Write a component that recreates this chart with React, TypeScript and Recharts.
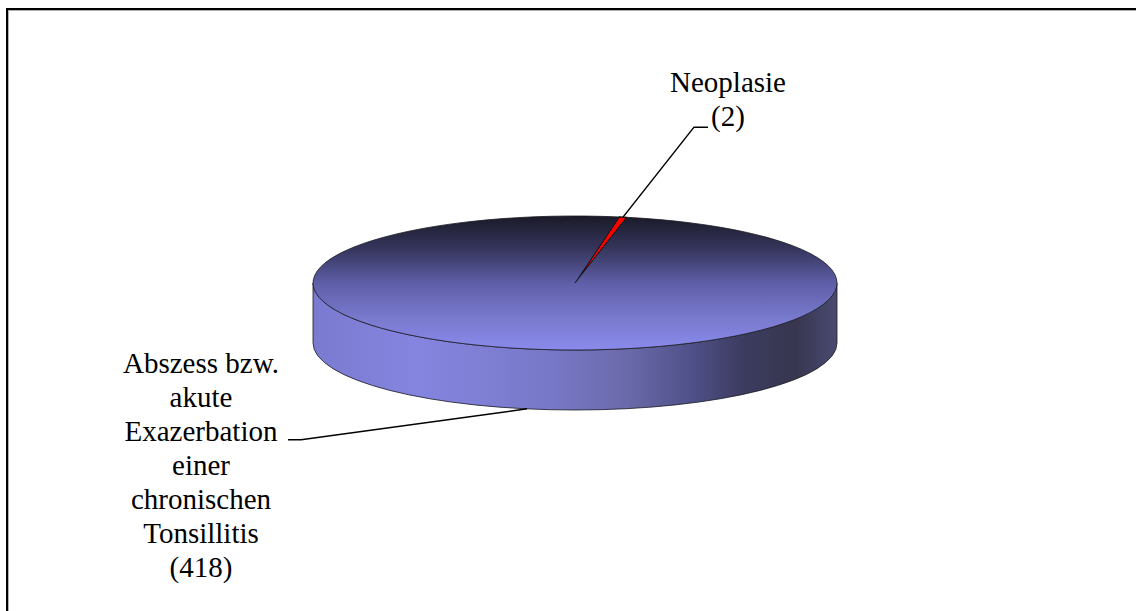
import React from 'react';
import { PieChart, Pie, Cell } from 'recharts';

// Diagnoses and case counts
const categories = ['Neoplasie', 'Abszess bzw. akute Exazerbation einer chronischen Tonsillitis'];
const counts = [2, 418];
// Wrapped label text for each category (count is appended as its own line)
const labelLines = [
  ['Neoplasie'],
  ['Abszess bzw.', 'akute', 'Exazerbation', 'einer', 'chronischen', 'Tonsillitis'],
];
const sliceColors = ['#ff0000', 'url(#pieTopFace)'];

const data = categories.map((name, i) => ({ name, value: counts[i] }));

const WIDTH = 1136;
const HEIGHT = 611;
const CX = 575;
const CY = 283;
const RADIUS = 262;
const TILT = 67 / 262; // vertical squash of the pie disc
const DEPTH = 60; // thickness of the disc
const RAD = Math.PI / 180;
const FONT = 'Liberation Serif';
const BASE_SIZE = 20; // glyphs are laid out at this size and scaled up
const FONT_SIZE = 29;
const LINE_H = 34;

const proj = (cx: number, cy: number, r: number, deg: number, drop = 0) => ({
  x: cx + r * Math.cos(-deg * RAD),
  y: cy + r * TILT * Math.sin(-deg * RAD) + drop,
});

function LabelText({ x, y, children }: { x: number; y: number; children: React.ReactNode }) {
  return (
    <text
      transform={`translate(${x},${y}) scale(${FONT_SIZE / BASE_SIZE})`}
      x={0}
      y={0}
      textAnchor="middle"
      fontFamily={FONT}
      fontSize={BASE_SIZE}
      fill="#000"
    >
      {children}
    </text>
  );
}

function Slice3D(props: any) {
  const { cx, cy, outerRadius: r, startAngle, endAngle, fill, index } = props;
  const ry = r * TILT;
  const hi = Math.max(startAngle, endAngle);
  const lo = Math.min(startAngle, endAngle);

  // Visible front wall pieces: angle ranges where the rim faces the viewer
  const walls: string[] = [];
  for (let k = -2; k <= 2; k++) {
    const a = Math.max(lo, -180 + 360 * k);
    const b = Math.min(hi, 360 * k);
    if (b - a > 0.01) {
      const pb = proj(cx, cy, r, b);
      const pa = proj(cx, cy, r, a);
      walls.push(
        `M${pb.x},${pb.y} A${r},${ry} 0 0 1 ${pa.x},${pa.y} L${pa.x},${pa.y + DEPTH} ` +
          `A${r},${ry} 0 0 0 ${pb.x},${pb.y + DEPTH} Z`
      );
    }
  }

  const s = proj(cx, cy, r, startAngle);
  const e = proj(cx, cy, r, endAngle);
  const span = Math.abs(startAngle - endAngle);
  const large = span > 180 ? 1 : 0;
  const sweep = startAngle > endAngle ? 1 : 0;
  const top = `M${cx},${cy} L${s.x},${s.y} A${r},${ry} 0 ${large} ${sweep} ${e.x},${e.y} Z`;
  const isRed = index === 0;

  return (
    <g>
      <defs>
        <linearGradient id="pieTopFace" gradientUnits="userSpaceOnUse" x1={cx} y1={cy - ry} x2={cx} y2={cy + ry}>
          <stop offset="0" stopColor="#1a1a28" />
          <stop offset="0.25" stopColor="#36365e" />
          <stop offset="0.5" stopColor="#5e5ea8" />
          <stop offset="0.75" stopColor="#7878cc" />
          <stop offset="1" stopColor="#8a8aec" />
        </linearGradient>
        <linearGradient id="pieSide" gradientUnits="userSpaceOnUse" x1={cx - r} y1={0} x2={cx + r} y2={0}>
          <stop offset="0" stopColor="#7a7ad0" />
          <stop offset="0.2" stopColor="#8585e0" />
          <stop offset="0.45" stopColor="#7878c8" />
          <stop offset="0.6" stopColor="#6a6aaa" />
          <stop offset="0.72" stopColor="#50508a" />
          <stop offset="0.82" stopColor="#3c3c60" />
          <stop offset="0.92" stopColor="#36364f" />
          <stop offset="1" stopColor="#4a4a70" />
        </linearGradient>
      </defs>
      {walls.map((d, i) => (
        <path key={i} d={d} fill={isRed ? '#b00000' : 'url(#pieSide)'} stroke="#1a1a24" strokeWidth={0.8} />
      ))}
      <path d={top} fill={fill} stroke={isRed ? '#000' : '#1a1a24'} strokeWidth={isRed ? 1.2 : 0.8} strokeLinejoin="round" />
    </g>
  );
}

function SliceLabel(props: any) {
  const { cx, cy, outerRadius: r, midAngle, index, value } = props;
  const lines = [...labelLines[index], `(${value})`];
  const upper = Math.sin(midAngle * RAD) > 0;
  const anchor = proj(cx, cy, r, midAngle, upper ? 0 : DEPTH);

  if (upper) {
    const elbow = { x: anchor.x + 71, y: anchor.y - 90 };
    const endX = elbow.x + 14;
    const tx = endX + 20;
    return (
      <g>
        <polyline points={`${anchor.x},${anchor.y} ${elbow.x},${elbow.y} ${endX},${elbow.y}`} fill="none" stroke="#000" strokeWidth={1.5} />
        {lines.map((t, i) => (
          <LabelText key={i} x={tx} y={elbow.y - 1 - (lines.length - 1 - i) * LINE_H}>
            {t}
          </LabelText>
        ))}
      </g>
    );
  }

  const elbow = { x: anchor.x - 226, y: anchor.y + 31 };
  const endX = elbow.x - 13;
  const tx = endX - 87;
  const pivot = 2; // line that the leader points at
  return (
    <g>
      <polyline points={`${anchor.x},${anchor.y} ${elbow.x},${elbow.y} ${endX},${elbow.y}`} fill="none" stroke="#000" strokeWidth={1.5} />
      {lines.map((t, i) => (
        <LabelText key={i} x={tx} y={elbow.y + 1 + (i - pivot) * LINE_H}>
          {t}
        </LabelText>
      ))}
    </g>
  );
}

export default function App() {
  const startAngle = 80.3;
  return (
    <div style={{ position: 'absolute', left: 0, top: 0, width: WIDTH, height: HEIGHT, background: '#fff', overflow: 'hidden' }}>
      <div
        style={{
          position: 'absolute',
          left: 6,
          top: 8,
          width: WIDTH,
          height: HEIGHT,
          borderLeft: '2px solid #000',
          borderTop: '2px solid #000',
          boxShadow: 'inset 1px 1px 0 #b0b0b0',
        }}
      />
      <div style={{ position: 'absolute', left: 0, top: 0 }}>
        <PieChart width={WIDTH} height={HEIGHT} margin={{ top: 0, right: 0, bottom: 0, left: 0 }}>
          <Pie
            data={data}
            dataKey="value"
            nameKey="name"
            cx={CX}
            cy={CY}
            innerRadius={0}
            outerRadius={RADIUS}
            startAngle={startAngle}
            endAngle={startAngle - 360}
            isAnimationActive={false}
            shape={Slice3D}
            label={SliceLabel}
            labelLine={false}
          >
            {data.map((d, i) => (
              <Cell key={d.name} fill={sliceColors[i]} />
            ))}
          </Pie>
        </PieChart>
      </div>
    </div>
  );
}
